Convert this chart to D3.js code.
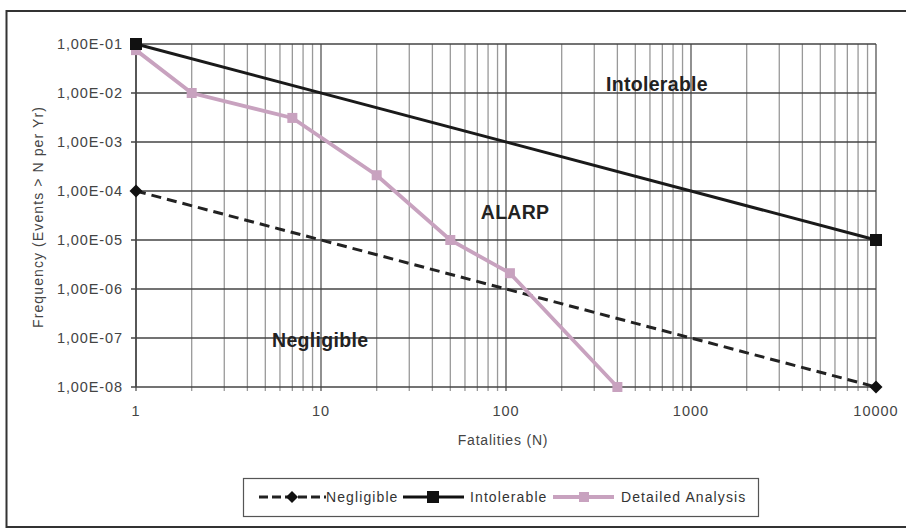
<!DOCTYPE html>
<html>
<head>
<meta charset="utf-8">
<script src="https://cdnjs.cloudflare.com/ajax/libs/d3/7.8.5/d3.min.js"></script>
<style>
  body { margin: 0; background: #fff; }
  text { font-family: "Liberation Sans", Arial, sans-serif; }
</style>
</head>
<body>
<div id="chart"></div>
<script>
// data
const negligibleN = [1, 10000];
const negligibleF = [1e-4, 1e-8];
const intolerableN = [1, 10000];
const intolerableF = [1e-1, 1e-5];
const detailedN = [1, 2, 7, 20, 50, 105, 400];
const detailedF = [7.5e-2, 1e-2, 3.1e-3, 2.1e-4, 1e-5, 2.1e-6, 1e-8];
const yTicks = [1e-1, 1e-2, 1e-3, 1e-4, 1e-5, 1e-6, 1e-7, 1e-8];
const yTickLabels = ["1,00E-01", "1,00E-02", "1,00E-03", "1,00E-04", "1,00E-05", "1,00E-06", "1,00E-07", "1,00E-08"];
const xTicks = [1, 10, 100, 1000, 10000];
const regionLabels = [
  { text: "Intolerable", n: 655, f: 1.5e-2 },
  { text: "ALARP", n: 112, f: 3.7e-5 },
  { text: "Negligible", n: 9.9, f: 9.1e-8 }
];

const width = 906, height = 531;
const svg = d3.select("#chart").append("svg")
  .attr("width", width)
  .attr("height", height);

// outer frame (open on the right, like the scan)
svg.append("path")
  .attr("d", `M${width + 5},11 H6.5 V527 H${width + 5}`)
  .attr("fill", "none")
  .attr("stroke", "#333")
  .attr("stroke-width", 2);

const x = d3.scaleLog().domain([1, 10000]).range([136, 876]);
const y = d3.scaleLog().domain([1e-8, 1e-1]).range([387, 44]);

// vertical grid at 1..9 of each decade
const minorX = [];
for (let d = 1; d < 10000; d *= 10) {
  for (let k = 1; k < 10; k++) minorX.push(d * k);
}
minorX.push(10000);

const grid = svg.append("g");
grid.selectAll("line.v")
  .data(minorX)
  .join("line")
  .attr("class", "v")
  .attr("x1", d => x(d)).attr("x2", d => x(d))
  .attr("y1", y(1e-1)).attr("y2", y(1e-8) + 4)
  .attr("stroke", d => xTicks.includes(d) ? "#555" : "#999")
  .attr("stroke-width", 1.3);

grid.selectAll("line.h")
  .data(yTicks)
  .join("line")
  .attr("class", "h")
  .attr("x1", x(1) - 5).attr("x2", x(10000))
  .attr("y1", d => y(d)).attr("y2", d => y(d))
  .attr("stroke", "#444")
  .attr("stroke-width", 1.3);

// y axis line
svg.append("line")
  .attr("x1", x(1)).attr("x2", x(1))
  .attr("y1", y(1e-1)).attr("y2", y(1e-8))
  .attr("stroke", "#444").attr("stroke-width", 1.5);

// tick labels
svg.append("g").selectAll("text")
  .data(yTicks)
  .join("text")
  .attr("x", 123)
  .attr("y", d => y(d))
  .attr("dy", "0.35em")
  .attr("text-anchor", "end")
  .attr("font-size", 14.5)
  .attr("letter-spacing", 0.9)
  .attr("fill", "#444")
  .text((d, i) => yTickLabels[i]);

svg.append("g").selectAll("text")
  .data(xTicks)
  .join("text")
  .attr("x", d => x(d))
  .attr("y", 411)
  .attr("dy", "0.35em")
  .attr("text-anchor", "middle")
  .attr("font-size", 14.5)
  .attr("letter-spacing", 1)
  .attr("fill", "#444")
  .text(d => d);

svg.append("text")
  .attr("x", 503).attr("y", 445)
  .attr("text-anchor", "middle")
  .attr("font-size", 14)
  .attr("letter-spacing", 0.8)
  .attr("fill", "#444")
  .text("Fatalities (N)");

svg.append("text")
  .attr("transform", "translate(43,217) rotate(-90)")
  .attr("text-anchor", "middle")
  .attr("font-size", 14)
  .attr("letter-spacing", 1.1)
  .attr("fill", "#444")
  .text("Frequency (Events > N per Yr)");

// series
const line = d3.line().x(d => x(d[0])).y(d => y(d[1]));

svg.append("path")
  .datum(negligibleN.map((n, i) => [n, negligibleF[i]]))
  .attr("d", line)
  .attr("fill", "none")
  .attr("stroke", "#222")
  .attr("stroke-width", 3)
  .attr("stroke-dasharray", "10,6");

svg.append("path")
  .datum(intolerableN.map((n, i) => [n, intolerableF[i]]))
  .attr("d", line)
  .attr("fill", "none")
  .attr("stroke", "#1a1a1a")
  .attr("stroke-width", 3);

const detailed = detailedN.map((n, i) => [n, detailedF[i]]);
svg.append("path")
  .datum(detailed)
  .attr("d", line)
  .attr("fill", "none")
  .attr("stroke", "#c8a2bf")
  .attr("stroke-width", 3.8);

svg.append("g").selectAll("rect")
  .data(detailed)
  .join("rect")
  .attr("x", d => x(d[0]) - 5).attr("y", d => y(d[1]) - 5)
  .attr("width", 10).attr("height", 10)
  .attr("fill", "#c8a2bf");

svg.append("g").selectAll("path")
  .data(negligibleN.map((n, i) => [n, negligibleF[i]]))
  .join("path")
  .attr("transform", d => `translate(${x(d[0])},${y(d[1])})`)
  .attr("d", "M0,-6.5 L6.5,0 L0,6.5 L-6.5,0 Z")
  .attr("fill", "#111");

svg.append("g").selectAll("rect")
  .data(intolerableN.map((n, i) => [n, intolerableF[i]]))
  .join("rect")
  .attr("x", d => x(d[0]) - 6).attr("y", d => y(d[1]) - 6)
  .attr("width", 12).attr("height", 12)
  .attr("fill", "#111");

// region labels
svg.append("g").selectAll("text")
  .data(regionLabels)
  .join("text")
  .attr("x", d => x(d.n))
  .attr("y", d => y(d.f))
  .attr("dy", "0.35em")
  .attr("text-anchor", "middle")
  .attr("font-size", 19.5)
  .attr("font-weight", "bold")
  .attr("letter-spacing", 0.3)
  .attr("fill", "#222")
  .text(d => d.text);

// legend
const legend = svg.append("g");
legend.append("rect")
  .attr("x", 243.5).attr("y", 478.5)
  .attr("width", 515).attr("height", 38)
  .attr("fill", "#fff")
  .attr("stroke", "#555")
  .attr("stroke-width", 1.2);

const ly = 497;
legend.append("line")
  .attr("x1", 259).attr("x2", 326).attr("y1", ly).attr("y2", ly)
  .attr("stroke", "#222").attr("stroke-width", 3).attr("stroke-dasharray", "9,4");
legend.append("path")
  .attr("transform", `translate(292,${ly})`)
  .attr("d", "M0,-6 L6,0 L0,6 L-6,0 Z")
  .attr("fill", "#111");
legend.append("line")
  .attr("x1", 403).attr("x2", 464).attr("y1", ly).attr("y2", ly)
  .attr("stroke", "#111").attr("stroke-width", 3);
legend.append("rect")
  .attr("x", 427).attr("y", ly - 6).attr("width", 12).attr("height", 12)
  .attr("fill", "#111");
legend.append("line")
  .attr("x1", 553).attr("x2", 614).attr("y1", ly).attr("y2", ly)
  .attr("stroke", "#c8a2bf").attr("stroke-width", 3.8);
legend.append("rect")
  .attr("x", 579).attr("y", ly - 5).attr("width", 10).attr("height", 10)
  .attr("fill", "#c8a2bf");

const legendItems = [
  { text: "Negligible", x: 326 },
  { text: "Intolerable", x: 470 },
  { text: "Detailed Analysis", x: 621 }
];
legend.selectAll("text")
  .data(legendItems)
  .join("text")
  .attr("x", d => d.x)
  .attr("y", ly)
  .attr("dy", "0.35em")
  .attr("font-size", 14)
  .attr("letter-spacing", 1.1)
  .attr("fill", "#333")
  .text(d => d.text);
</script>
</body>
</html>
